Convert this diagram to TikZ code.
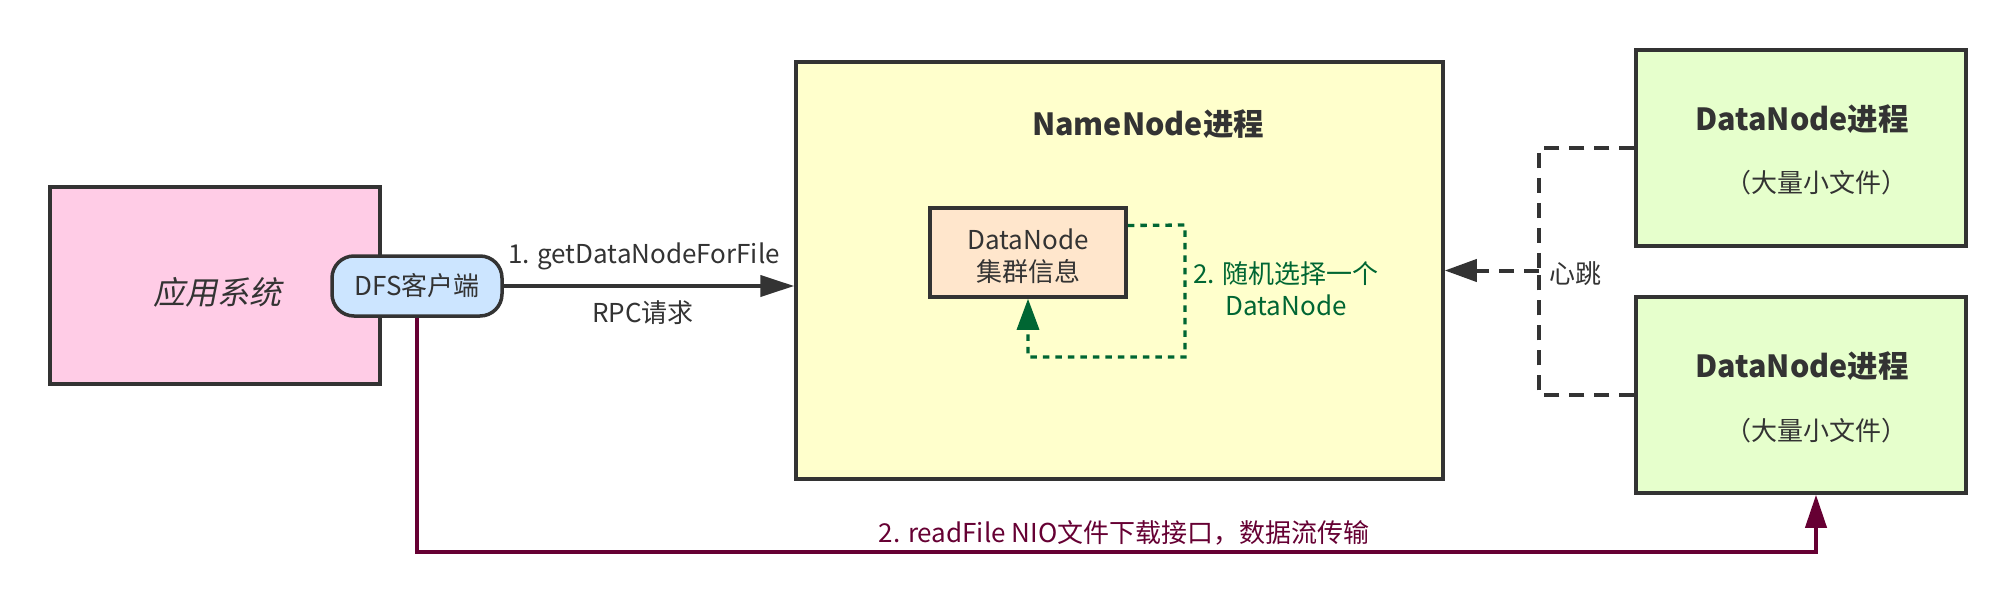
\documentclass[tikz,border=0pt]{standalone}
\usepackage{fontspec}
\setmainfont{Noto Sans CJK SC}
\newfontfamily\slantfont{Noto Sans CJK SC}[FakeSlant=0.2]
\usetikzlibrary{arrows.meta,positioning,calc}
\definecolor{ink}{HTML}{333333}
\definecolor{pinkf}{HTML}{FFCCE6}
\definecolor{bluef}{HTML}{CCE5FF}
\definecolor{yellowf}{HTML}{FFFFCC}
\definecolor{peachf}{HTML}{FFE6CC}
\definecolor{greenf}{HTML}{E6FFCC}
\definecolor{maroon}{HTML}{660033}
\definecolor{dgreen}{HTML}{006633}
\tikzset{
  box/.style={draw=ink, line width=3.5pt, text=ink, inner sep=0pt, minimum width=#1},
  txt/.style={text=ink, inner sep=0pt, font=\fontsize{26}{32}\selectfont, align=center},
  ttl/.style={text=ink, inner sep=0pt, font=\fontsize{30.5}{36}\selectfont\bfseries, align=center},
  main/.style={draw=ink, line width=4pt, -{Triangle[length=34pt,width=21pt]}},
  hb/.style={draw=ink, line width=4pt, dash pattern=on 15pt off 10pt},
  loopg/.style={draw=dgreen, line width=3.3pt, dash pattern=on 6.5pt off 6pt},
  rd/.style={draw=maroon, line width=4pt},
}
\begin{document}
\begin{tikzpicture}[x=1pt,y=-1pt]
\useasboundingbox (0,0) rectangle (2016,611);
\fill[white] (0,0) rectangle (2016,611);
% boxes
\node[box=330pt, fill=pinkf, minimum height=197pt] (app) at (215,285.5) {};
\node[txt, font=\fontsize{32}{38}\selectfont\slantfont] (applbl) at (217,292) {应用系统};
\node[box=170pt, fill=bluef, minimum height=60pt, rounded corners=22pt] (client) at (417,286) {};
\node[txt] (clientlbl) at (417,286) {DFS客户端};
\node[box=647pt, fill=yellowf, minimum height=417pt] (nn) at (1119.5,270.5) {};
\node[ttl] (nnttl) at (1148,124) {NameNode进程};
\node[box=196pt, fill=peachf, minimum height=89pt] (info) at (1028,252.5) {};
\node[txt] (infolbl) at (1028,256) {DataNode\\集群信息};
\node[box=330pt, fill=greenf, minimum height=196pt] (dn1) at (1801,148) {};
\node[ttl] (dn1ttl) at (1802,119) {DataNode进程};
\node[txt] (dn1sub) at (1816,183) {（大量小文件）};
\node[box=330pt, fill=greenf, minimum height=196pt] (dn2) at (1801,395) {};
\node[ttl] (dn2ttl) at (1802,366) {DataNode进程};
\node[txt] (dn2sub) at (1816,431) {（大量小文件）};
% connector 1
\draw[main] (client.east) -- (client.east -| nn.west);
\node[txt] (l1a) at (644,256) {1. getDataNodeForFile};
\node[txt] (l1b) at (643,313) {RPC请求};
% green loop
\coordinate (gstart) at ([yshift=27pt]info.east);
\coordinate (gc1) at (1185,225);
\coordinate (gc2) at (1185,357);
\draw[loopg] (gstart) -- (gc1) -- (gc2) -| ([yshift=-31pt]info.south);
\draw[dgreen, line width=3.3pt, -{Triangle[length=31pt,width=22pt]}] ([yshift=-31pt]info.south) -- (info.south);
\node[txt, text=dgreen] (gl) at (1286,289) {2. 随机选择一个\\DataNode};
% heartbeat
\coordinate (hj) at (1539,270.5);
\draw[hb] (dn1.west) -| (hj);
\draw[hb] (dn2.west) -| (hj);
\draw[hb, -{Triangle[length=32pt,width=22pt]}] (hj) -- (nn.east);
\node[txt, anchor=west] (hbl) at (1549,274) {心跳};
% read file
\coordinate (rc) at (1816,552);
\draw[rd] (client.south) |- (rc) -- ([yshift=-33pt,xshift=15pt]dn2.south);
\draw[maroon, line width=4pt, -{Triangle[length=33pt,width=21pt]}] ([yshift=-33pt,xshift=15pt]dn2.south) -- ([xshift=15pt]dn2.south);
\node[txt, text=maroon] (rl) at (1124,533) {2. readFile NIO文件下载接口，数据流传输};
\end{tikzpicture}
\end{document}
